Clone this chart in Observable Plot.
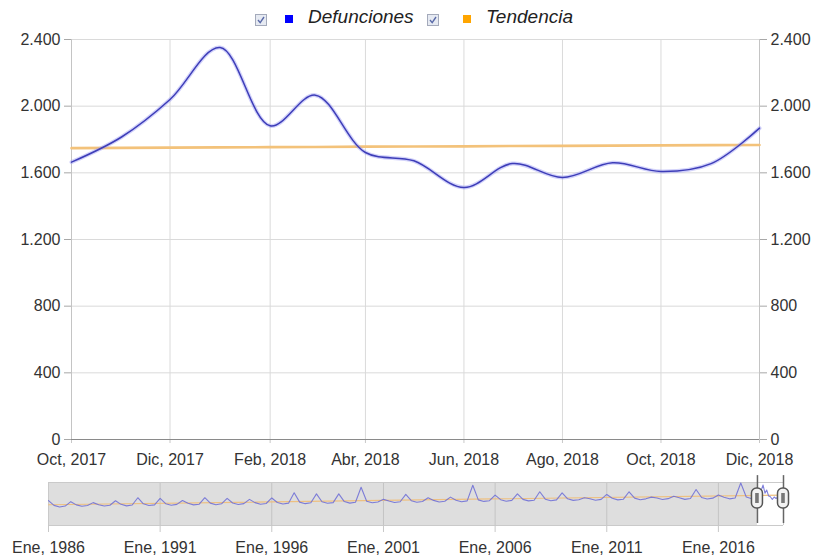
<!DOCTYPE html>
<html><head><meta charset="utf-8">
<script src="https://cdn.jsdelivr.net/npm/d3@7"></script>
<script src="https://cdn.jsdelivr.net/npm/@observablehq/plot@0.6"></script>
<style>
body{margin:0;background:#fff;font-family:"Liberation Sans",Arial,sans-serif;}
#wrap{position:relative;width:815px;height:559px;overflow:hidden;background:#fff}
#legend{position:absolute;left:0;top:0;width:815px;height:36px;z-index:2}
.lg{position:absolute}
.txt{position:absolute;top:5px;font-style:italic;font-size:19px;color:#222;white-space:nowrap;line-height:24px}
svg{display:block}
</style></head><body>
<div id="wrap"><div id="legend"></div><div id="main"></div><div id="nav"></div></div>
<script>
// ---- datos del gráfico principal ----
const fechas = ["2017-10","2017-11","2017-12","2018-01","2018-02","2018-03","2018-04","2018-05","2018-06","2018-07","2018-08","2018-09","2018-10","2018-11","2018-12"];
const defunciones = [1664, 1815, 2040, 2352, 1882, 2066, 1722, 1672, 1512, 1656, 1572, 1660, 1608, 1655, 1868];
const tendencia = [1748, 1750, 1751, 1753, 1754, 1755, 1757, 1758, 1759, 1761, 1762, 1763, 1765, 1766, 1767];
const ticksX = ["2017-10","2017-12","2018-02","2018-04","2018-06","2018-08","2018-10","2018-12"];
const ticksY = [0, 400, 800, 1200, 1600, 2000, 2400];
const meses = ["Ene","Feb","Mar","Abr","May","Jun","Jul","Ago","Sep","Oct","Nov","Dic"];
const series = ["Defunciones", "Tendencia"];
const coloresLeyenda = ["#0000ff", "#ffa500"];

// ---- datos del navegador (1986-2017, valores aproximados por trimestre) ----
const navAnios = [1986,1987,1988,1989,1990,1991,1992,1993,1994,1995,1996,1997,1998,1999,2000,2001,2002,2003,2004,2005,2006,2007,2008,2009,2010,2011,2012,2013,2014,2015,2016,2017];
const navEne = [1450,1385,1330,1440,1615,1580,1450,1615,1580,1520,1600,1900,1840,1840,2220,1520,1805,1615,1650,2340,1770,1840,1960,1900,1615,1805,1960,1650,1700,2090,1770,2470];
const navAbr = [1170,1200,1210,1230,1260,1270,1290,1300,1310,1330,1340,1360,1380,1390,1410,1420,1440,1460,1470,1490,1500,1520,1530,1550,1560,1580,1590,1600,1610,1630,1640,1660];
const navJul = [1080,1120,1130,1140,1160,1180,1200,1210,1220,1240,1250,1270,1290,1300,1320,1340,1350,1370,1380,1400,1410,1430,1440,1460,1470,1490,1500,1510,1520,1540,1550,1560];
const navOct = [1130,1160,1180,1190,1200,1230,1240,1260,1270,1280,1300,1320,1330,1350,1370,1380,1400,1410,1430,1440,1460,1470,1490,1500,1520,1530,1550,1560,1570,1590,1600];
const navTicks = ["1986-01","1991-01","1996-01","2001-01","2006-01","2011-01","2016-01"];
const navTendFechas = ["1986-01","2018-12"];
const navTendencia = [1205, 1767];

const parse = d3.utcParse("%Y-%m");
const fmtY = d3.formatLocale({decimal:",", thousands:".", grouping:[3], currency:["",""]}).format(",d");
const fmtX = d => meses[d.getUTCMonth()] + ", " + d.getUTCFullYear();

const data = fechas.map((f, i) => ({fecha: parse(f), def: defunciones[i], tend: tendencia[i]}));
const x0 = parse(fechas[0]), x1 = parse(fechas[fechas.length - 1]);

const font = {fontFamily: "'Liberation Sans', Arial, sans-serif", fontSize: "16px", color: "#333", background: "transparent", overflow: "visible"};

const main = Plot.plot({
  width: 815, height: 475,
  marginTop: 39, marginLeft: 71, marginRight: 56, marginBottom: 36,
  style: font,
  x: {type: "utc", domain: [x0, x1], label: null},
  y: {domain: [0, 2400], label: null},
  marks: [
    Plot.gridY(ticksY, {stroke: "#dadada", strokeOpacity: 1}),
    Plot.gridX(ticksX.map(parse), {stroke: "#dadada", strokeOpacity: 1}),
    Plot.ruleX([x0, x1], {stroke: "#c4c4c4"}),
    Plot.axisY(ticksY, {anchor: "left", label: null, tickSize: 7, tickPadding: 4, tickFormat: fmtY, stroke: "#a8a8a8"}),
    Plot.axisY(ticksY, {anchor: "right", label: null, tickSize: 7, tickPadding: 4, tickFormat: fmtY, stroke: "#a8a8a8"}),
    Plot.axisX(ticksX.map(parse), {anchor: "bottom", label: null, tickSize: 4, tickPadding: 10, tickFormat: fmtX, stroke: "#c8c8c8"}),
    Plot.ruleY([0], {stroke: "#8a8a8a", x1: x0, x2: x1, strokeWidth: 1.2}),
    Plot.line(data, {x: "fecha", y: "tend", stroke: "#f3c27a", strokeWidth: 2.6}),
    Plot.line(data, {x: "fecha", y: "def", stroke: "#9c9cf4", strokeWidth: 4, strokeOpacity: 0.45, curve: "catmull-rom"}),
    Plot.line(data, {x: "fecha", y: "def", stroke: "#3d3db8", strokeWidth: 1.5, curve: "catmull-rom"})
  ]
});
document.getElementById("main").appendChild(main);

// ---- navegador ----
const navData = [];
navAnios.forEach((a, i) => {
  navData.push({fecha: parse(a + "-01"), v: navEne[i]});
  navData.push({fecha: parse(a + "-04"), v: navAbr[i]});
  navData.push({fecha: parse(a + "-07"), v: navJul[i]});
  if (i < navOct.length) navData.push({fecha: parse(a + "-10"), v: navOct[i]});
});
data.forEach(d => navData.push({fecha: d.fecha, v: d.def}));
const navTend = navTendFechas.map((f, i) => ({fecha: parse(f), v: navTendencia[i]}));
const n0 = parse(navTendFechas[0]), n1 = parse(navTendFechas[1]);
const YMAX = 2500;

const nav = Plot.plot({
  width: 815, height: 84,
  marginTop: 7, marginBottom: 34, marginLeft: 48, marginRight: 32,
  style: font,
  x: {type: "utc", domain: [n0, n1], label: null},
  y: {domain: [0, YMAX], axis: null, label: null},
  marks: [
    Plot.rect([0], {x1: n0, x2: x0, y1: 0, y2: YMAX, fill: "#dedede"}),
    Plot.gridX(navTicks.map(parse), {stroke: "#c4c4c4", strokeOpacity: 1, y1: 0, y2: YMAX}),
    Plot.ruleY([0, YMAX], {x1: n0, x2: n1, stroke: "#cacaca"}),
    Plot.ruleX([n0, n1], {y1: 0, y2: YMAX, stroke: "#cacaca"}),
    Plot.axisX(navTicks.map(parse), {anchor: "bottom", label: null, tickSize: 7, tickPadding: 9, tickFormat: fmtX, stroke: "#c8c8c8"}),
    Plot.line(navTend, {x: "fecha", y: "v", stroke: "#eec080", strokeWidth: 1.2}),
    Plot.line(navData, {x: "fecha", y: "v", stroke: "#6b6bd6", strokeWidth: 1.1, strokeOpacity: 0.85}),
    Plot.ruleX([x0, x1], {y1: 116, y2: YMAX + 400, stroke: "#666", strokeWidth: 1.5}),
    Plot.rect([x0, x1], {x1: d => d, x2: d => d, y1: 988, y2: 2151, insetLeft: -5.5, insetRight: -5.5, rx: 5, fill: "#f2f2f2", stroke: "#555", strokeWidth: 1.5}),
    Plot.rect([x0, x1], {x1: d => d, x2: d => d, y1: 1279, y2: 1860, insetLeft: -1.8, insetRight: -1.8, fill: "#777"})
  ]
});
document.getElementById("nav").appendChild(nav);

// ---- leyenda ----
const lg = document.getElementById("legend");
const pos = [{cb: 255, sq: 285, tx: 308}, {cb: 427, sq: 463, tx: 486}];
series.forEach((s, i) => {
  const p = pos[i];
  const cb = document.createElementNS("http://www.w3.org/2000/svg", "svg");
  cb.setAttribute("width", 12); cb.setAttribute("height", 12);
  cb.setAttribute("class", "lg");
  cb.style.left = p.cb + "px"; cb.style.top = "14px";
  cb.innerHTML = '<rect x="0.5" y="0.5" width="11" height="11" fill="#e6eaf2" stroke="#a4aabb"/><path d="M3 6 L5.2 8.6 L9 3" fill="none" stroke="#5a6aa8" stroke-width="1.4"/>';
  lg.appendChild(cb);
  const sq = document.createElement("div");
  sq.className = "lg";
  sq.style.cssText = `left:${p.sq}px;top:15px;width:8px;height:8px;background:${coloresLeyenda[i]}`;
  lg.appendChild(sq);
  const t = document.createElement("div");
  t.className = "txt";
  t.style.left = p.tx + "px";
  t.textContent = s;
  lg.appendChild(t);
});
</script>
</body></html>
